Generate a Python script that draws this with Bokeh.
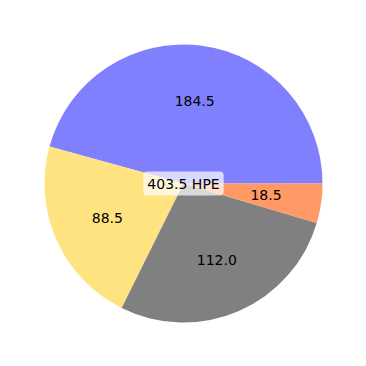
import numpy as np
from bokeh.plotting import figure
from bokeh.models import Range1d, ColumnDataSource
from bokeh.core.properties import value
from bokeh.embed import file_html
from bokeh.resources import INLINE

categories = ["A", "B", "C", "D"]
values = [184.5, 88.5, 112.0, 18.5]
colors = ["#8080ff", "#ffe380", "#808080", "#ff9966"]
labels = ["184.5", "88.5", "112.0", "18.5"]
unit = "HPE"

total = sum(values)
fracs = np.array(values) / total
ends = np.cumsum(fracs) * 2 * np.pi
starts = ends - fracs * 2 * np.pi
mids = (starts + ends) / 2

src = ColumnDataSource(dict(start=starts, end=ends, color=colors,
                            lx=0.6 * np.cos(mids), ly=0.6 * np.sin(mids), label=labels))

R = 183 / 139.0
p = figure(width=366, height=366, output_backend="svg", toolbar_location=None,
           x_range=Range1d(-R, R), y_range=Range1d(-R, R), min_border=0)
p.axis.visible = False
p.grid.visible = False
p.outline_line_color = None

p.wedge(x=0, y=0, radius=1, start_angle="start", end_angle="end",
        fill_color="color", line_color=None, source=src)
p.text(x="lx", y="ly", text="label", source=src, text_align="center",
       text_baseline="middle", text_font=value("DejaVu Sans"), text_font_size="14px",
       text_color="black")
p.text(x=[0], y=[0], text=[f"{total:.1f} {unit}"], text_align="center",
       text_baseline="middle", text_font=value("DejaVu Sans"), text_font_size="14px",
       text_color="black", background_fill_color="white", background_fill_alpha=0.7,
       border_radius=4, padding=4)

open("out.html", "w").write(file_html(p, INLINE))
